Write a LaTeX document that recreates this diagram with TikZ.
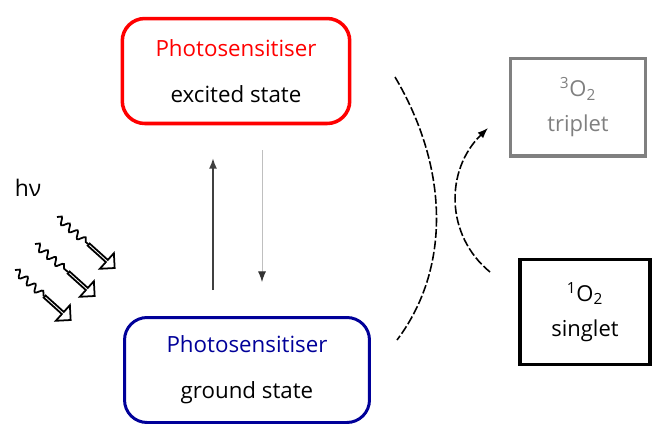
\documentclass[tikz,border=0pt]{standalone}
\usepackage{fontspec}
\setmainfont{Open Sans}
\usetikzlibrary{shapes.arrows}
\usetikzlibrary{decorations.pathmorphing}
\usetikzlibrary{arrows.meta}

\begin{document}
\begin{tikzpicture}[x=0.02cm,y=-0.02cm]
\tikzstyle{state} = [draw, rounded corners=0.45cm, line width=2pt, minimum height=2.1cm, align=center, font=\fontsize{12.7}{26}\selectfont]
\tikzstyle{oxygen} = [draw, line width=2pt, minimum width=2.7cm, minimum height=1.95cm, align=center, font=\fontsize{12.5}{20}\selectfont]
\tikzstyle{photon} = [decorate, decoration={snake, amplitude=2pt, segment length=6pt}, line width=1pt]
\tikzstyle{beam} = [draw, single arrow, rotate=-42, anchor=tail, minimum height=0.7cm, minimum width=0.42cm, single arrow head extend=0.11cm, inner sep=0pt, line width=1pt]
\tikzstyle{transfer} = [dash pattern=on 5pt off 1.5pt, line width=0.9pt]

\useasboundingbox (0,0) rectangle (653,427);

\node[state, draw=red, minimum width=4.55cm] (excited) at (236,71) {\textcolor{red}{Photosensitiser}\\excited state};
\node[state, draw=blue!60!black, line width=1.7pt, minimum width=4.9cm] (ground) at (247,370) {\textcolor{blue!60!black}{Photosensitiser}\\ground state};
\node[oxygen, draw=gray, text=gray] (triplet) at (578,107) {\textsuperscript{3}O\textsubscript{2}\\triplet};
\node[oxygen, minimum width=2.6cm, minimum height=2.1cm] (singlet) at (585,312) {\textsuperscript{1}O\textsubscript{2}\\singlet};

% excitation and decay
\coordinate (upa) at (213,290);
\coordinate (upb) at (213,158);
\coordinate (dna) at (262,150);
\coordinate (dnb) at (262,282);
\draw[-{Latex[length=6pt]}, line width=1pt, black!75] (upa) -- (upb);
\draw[-{Latex[length=6pt, color=black!80]}, line width=0.5pt, black!25] (dna) -- (dnb);

% light
\node[font=\fontsize{13}{15}\selectfont] (hv) at (28,188) {hν};
\node[beam] (b1) at (88,244) {};
\node[beam] (b2) at (68,272) {};
\node[beam] (b3) at (44,296) {};
\coordinate (w1) at (57,217);
\coordinate (w2) at (35,244);
\coordinate (w3) at (15,270);
\draw[photon] (w1) -- (b1.tail);
\draw[photon] (w2) -- (b2.tail);
\draw[photon] (w3) -- (b3.tail);

% energy transfer
\coordinate (ea) at (395,77);
\coordinate (eb) at (397,340);
\coordinate (oa) at (490,272);
\coordinate (ob) at (488,128);
\draw[transfer] (ea) .. controls (450,170) and (450,270) .. (eb);
\draw[transfer, -{Latex[length=6pt]}] (oa) .. controls (445,235) and (445,170) .. (ob);
\end{tikzpicture}
\end{document}
